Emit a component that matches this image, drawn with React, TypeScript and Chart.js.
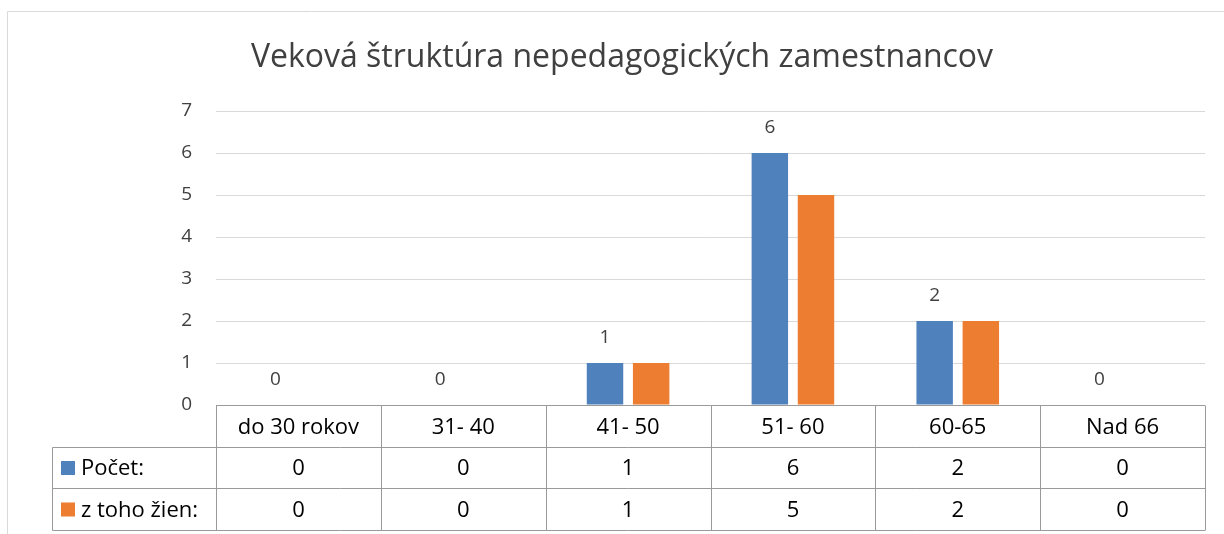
import React, { useEffect, useRef } from "react";
import { Chart, registerables } from "chart.js";

Chart.register(...registerables);

const TITLE = "Veková štruktúra nepedagogických zamestnancov";
const CATEGORIES = ["do 30 rokov", "31- 40", "41- 50", "51- 60", "60-65", "Nad 66"];
const SERIES_NAMES = ["Počet:", "z toho žien:"];
const POCET = [0, 0, 1, 6, 2, 0];
const ZIEN = [0, 0, 1, 5, 2, 0];
const COLORS = ["#4f81bd", "#ed7d31"];
const Y_MAX = 7;

const FONT = "'Open Sans', sans-serif";

const decorPlugin = {
  id: "decor",
  beforeDraw(chart: any) {
    const ctx = chart.ctx;
    ctx.save();
    ctx.fillStyle = "#ffffff";
    ctx.fillRect(0, 0, chart.width, chart.height);
    // outer frame
    ctx.strokeStyle = "#d9d9d9";
    ctx.lineWidth = 1;
    ctx.beginPath();
    ctx.moveTo(7.5, chart.height);
    ctx.lineTo(7.5, 11.5);
    ctx.lineTo(chart.width, 11.5);
    ctx.stroke();
    // title
    ctx.fillStyle = "#404040";
    ctx.font = `32px ${FONT}`;
    ctx.textAlign = "center";
    ctx.textBaseline = "alphabetic";
    ctx.fillText(TITLE, 622, 67);
    ctx.restore();
  },
  afterDatasetsDraw(chart: any) {
    const ctx = chart.ctx;
    ctx.save();
    // data labels for first series
    const meta = chart.getDatasetMeta(0);
    ctx.fillStyle = "#404040";
    ctx.font = `19px ${FONT}`;
    ctx.textAlign = "center";
    ctx.textBaseline = "alphabetic";
    meta.data.forEach((el: any, i: number) => {
      ctx.fillText(String(chart.data.datasets[0].data[i]), el.x, el.y - 20);
    });

    // data table
    const area = chart.chartArea;
    const n = CATEGORIES.length;
    const w = (area.right - area.left) / n;
    const top = area.bottom;
    const rowH = 41.7;
    const leftCol = 52;
    const rows = [top, top + rowH, top + 2 * rowH, top + 3 * rowH].map((v) => Math.round(v) + 0.5);
    ctx.strokeStyle = "#9a9a9a";
    ctx.lineWidth = 1;
    ctx.beginPath();
    ctx.moveTo(area.left, rows[0]);
    ctx.lineTo(area.right, rows[0]);
    for (let r = 1; r < 4; r++) {
      ctx.moveTo(leftCol + 0.5, rows[r]);
      ctx.lineTo(area.right, rows[r]);
    }
    for (let i = 0; i <= n; i++) {
      const x = Math.round(area.left + i * w) + 0.5;
      ctx.moveTo(x, rows[0]);
      ctx.lineTo(x, rows[3]);
    }
    ctx.moveTo(leftCol + 0.5, rows[1]);
    ctx.lineTo(leftCol + 0.5, rows[3]);
    ctx.stroke();

    ctx.fillStyle = "#000000";
    ctx.font = `22px ${FONT}`;
    ctx.textAlign = "center";
    ctx.textBaseline = "middle";
    const seriesData = [POCET, ZIEN];
    for (let i = 0; i < n; i++) {
      const cx = area.left + (i + 0.5) * w;
      ctx.fillText(CATEGORIES[i], cx, (rows[0] + rows[1]) / 2 + 1);
      ctx.fillText(String(seriesData[0][i]), cx, (rows[1] + rows[2]) / 2 + 1);
      ctx.fillText(String(seriesData[1][i]), cx, (rows[2] + rows[3]) / 2 + 1);
    }
    ctx.textAlign = "left";
    for (let s = 0; s < 2; s++) {
      const cy = (rows[s + 1] + rows[s + 2]) / 2;
      ctx.fillStyle = COLORS[s];
      ctx.fillRect(61, cy - 7, 14, 14);
      ctx.fillStyle = "#000000";
      ctx.fillText(SERIES_NAMES[s], 81, cy + 1);
    }
    ctx.restore();
  },
};

export default function App() {
  const ref = useRef<HTMLCanvasElement | null>(null);
  useEffect(() => {
    if (!ref.current) return;
    const chart = new Chart(ref.current, {
      type: "bar",
      data: {
        labels: CATEGORIES,
        datasets: [
          {
            label: SERIES_NAMES[0],
            data: POCET,
            backgroundColor: COLORS[0],
            categoryPercentage: 0.56,
            barPercentage: 0.79,
          },
          {
            label: SERIES_NAMES[1],
            data: ZIEN,
            backgroundColor: COLORS[1],
            categoryPercentage: 0.56,
            barPercentage: 0.79,
          },
        ],
      },
      options: {
        animation: false,
        responsive: false,
        layout: { padding: { left: 150, top: 111, right: 19, bottom: 129 } },
        plugins: {
          legend: { display: false },
          title: { display: false },
          tooltip: { enabled: false },
        },
        scales: {
          x: { display: false },
          y: {
            min: 0,
            max: Y_MAX,
            afterFit: (s: any) => {
              s.width = 66;
            },
            ticks: {
              stepSize: 1,
              color: "#404040",
              font: { family: FONT, size: 19 },
              padding: 24,
            },
            grid: { color: "#d9d9d9", drawTicks: false, lineWidth: 1 },
            border: { display: false },
          },
        },
      },
      plugins: [decorPlugin],
    });
    return () => chart.destroy();
  }, []);
  return (
    <div style={{ position: "absolute", left: 0, top: 0, width: 1224, height: 534 }}>
      <canvas ref={ref} width={1224} height={534} style={{ display: "block" }} />
    </div>
  );
}
